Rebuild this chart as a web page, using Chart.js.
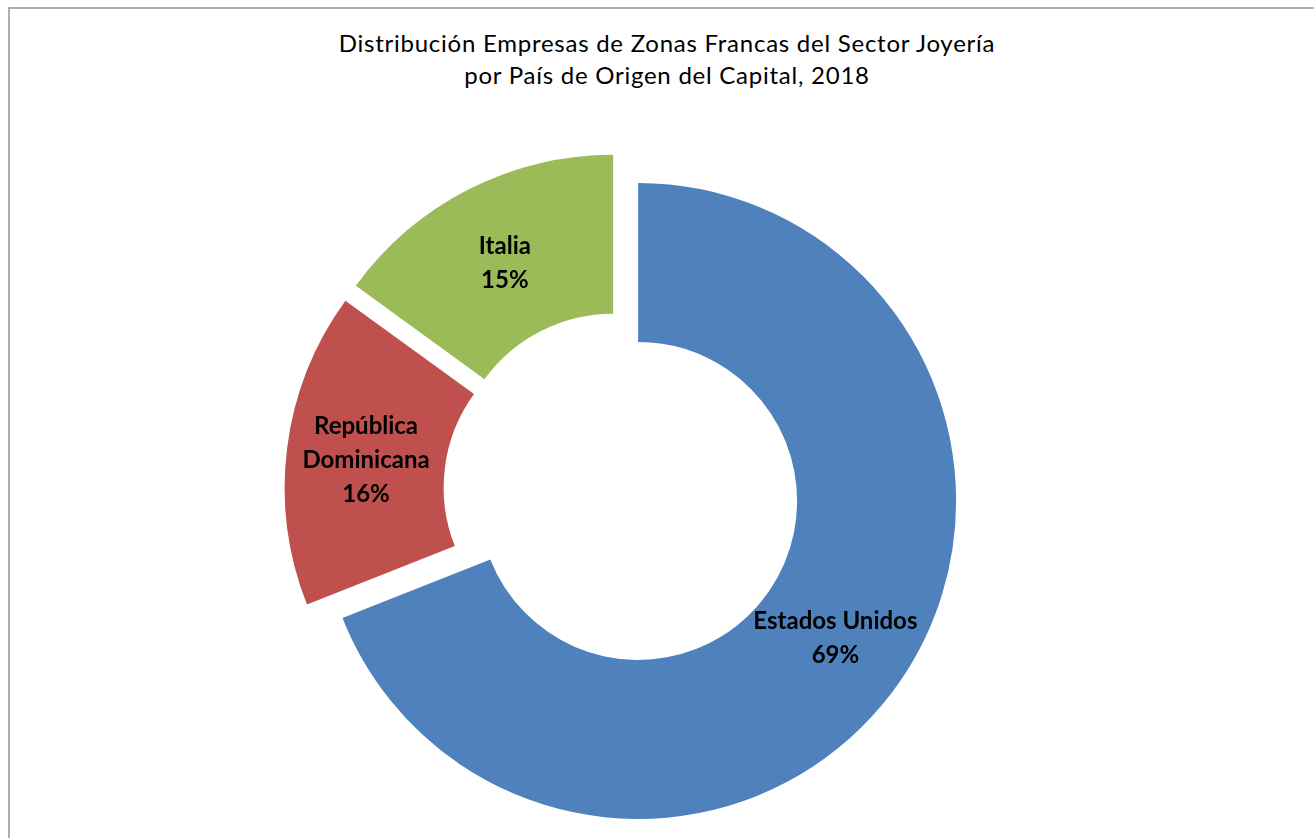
<!DOCTYPE html>
<html>
<head>
<meta charset="utf-8">
<script src="https://cdn.jsdelivr.net/npm/chart.js@4/dist/chart.umd.min.js"></script>
<style>
    body { margin: 0; width: 1314px; height: 838px; overflow: hidden; background: #fff; position: relative; }
    #frame { position: absolute; left: 8px; top: 7px; width: 1400px; height: 900px; border-left: 2px solid #adadad; border-top: 2px solid #adadad; }
    #title { position: absolute; left: 0; top: 27px; width: 1334px; text-align: center; font-family: Lato, sans-serif; font-size: 24px; letter-spacing: 0.75px; line-height: 32px; color: #000; }
    #chart { position: absolute; left: 0; top: 0; }
</style>
</head>
<body>
<div id="frame"></div>
<div id="title">Distribución Empresas de Zonas Francas del Sector Joyería<br>por País de Origen del Capital, 2018</div>
<canvas id="chart" width="1314" height="838"></canvas>
<script>
const countries = ['Estados Unidos', 'República Dominicana', 'Italia'];
const shares = [69, 16, 15];
const colors = ['#4F81BD', '#C0504D', '#9BBB59'];

// excel style exploded slices: move each arc out along its middle angle
const explode = {
    id: 'explode',
    beforeDatasetDraw(chart, args, opts) {
        const ctx = chart.ctx;
        args.meta.data.forEach(arc => {
            const mid = (arc.startAngle + arc.endAngle) / 2;
            ctx.save();
            ctx.translate(Math.cos(mid) * opts.distance, Math.sin(mid) * opts.distance);
            arc.draw(ctx);
            ctx.restore();
        });
        return false;
    }
};

const sliceLabels = {
    id: 'sliceLabels',
    afterDatasetsDraw(chart, args, opts) {
        const ctx = chart.ctx;
        const meta = chart.getDatasetMeta(0);
        const dist = chart.options.plugins.explode.distance;
        ctx.save();
        ctx.font = opts.font;
        ctx.fillStyle = '#000';
        ctx.textAlign = 'center';
        ctx.textBaseline = 'middle';
        meta.data.forEach((arc, i) => {
            const mid = (arc.startAngle + arc.endAngle) / 2;
            const pos = arc.tooltipPosition();
            const x = pos.x + Math.cos(mid) * dist;
            const y = pos.y + Math.sin(mid) * dist + opts.shiftY;

            // wrap the country name like excel does
            const lines = [];
            let line = '';
            chart.data.labels[i].split(' ').forEach(w => {
                const test = line ? line + ' ' + w : w;
                if (line && ctx.measureText(test).width > opts.maxWidth) {
                    lines.push(line);
                    line = w;
                } else {
                    line = test;
                }
            });
            lines.push(line);
            lines.push(chart.data.datasets[0].data[i] + '%');

            const top = y - (lines.length - 1) * opts.lineHeight / 2;
            lines.forEach((t, k) => ctx.fillText(t, x, top + k * opts.lineHeight));
        });
        ctx.restore();
    }
};

new Chart(document.querySelector('#chart'), {
    type: 'doughnut',
    data: {
        labels: countries,
        datasets: [{
            data: shares,
            backgroundColor: colors,
            borderWidth: 0
        }]
    },
    options: {
        responsive: false,
        animation: false,
        events: [],
        radius: 318,
        cutout: '50%',
        layout: { padding: { left: 0, right: 70, top: 142, bottom: 0 } },
        plugins: {
            legend: { display: false },
            tooltip: { enabled: false },
            title: { display: false },
            explode: { distance: 19.5 },
            sliceLabels: { font: 'bold 24px Lato', lineHeight: 34, maxWidth: 190, shiftY: 3 }
        }
    },
    plugins: [explode, sliceLabels]
});
</script>
</body>
</html>
